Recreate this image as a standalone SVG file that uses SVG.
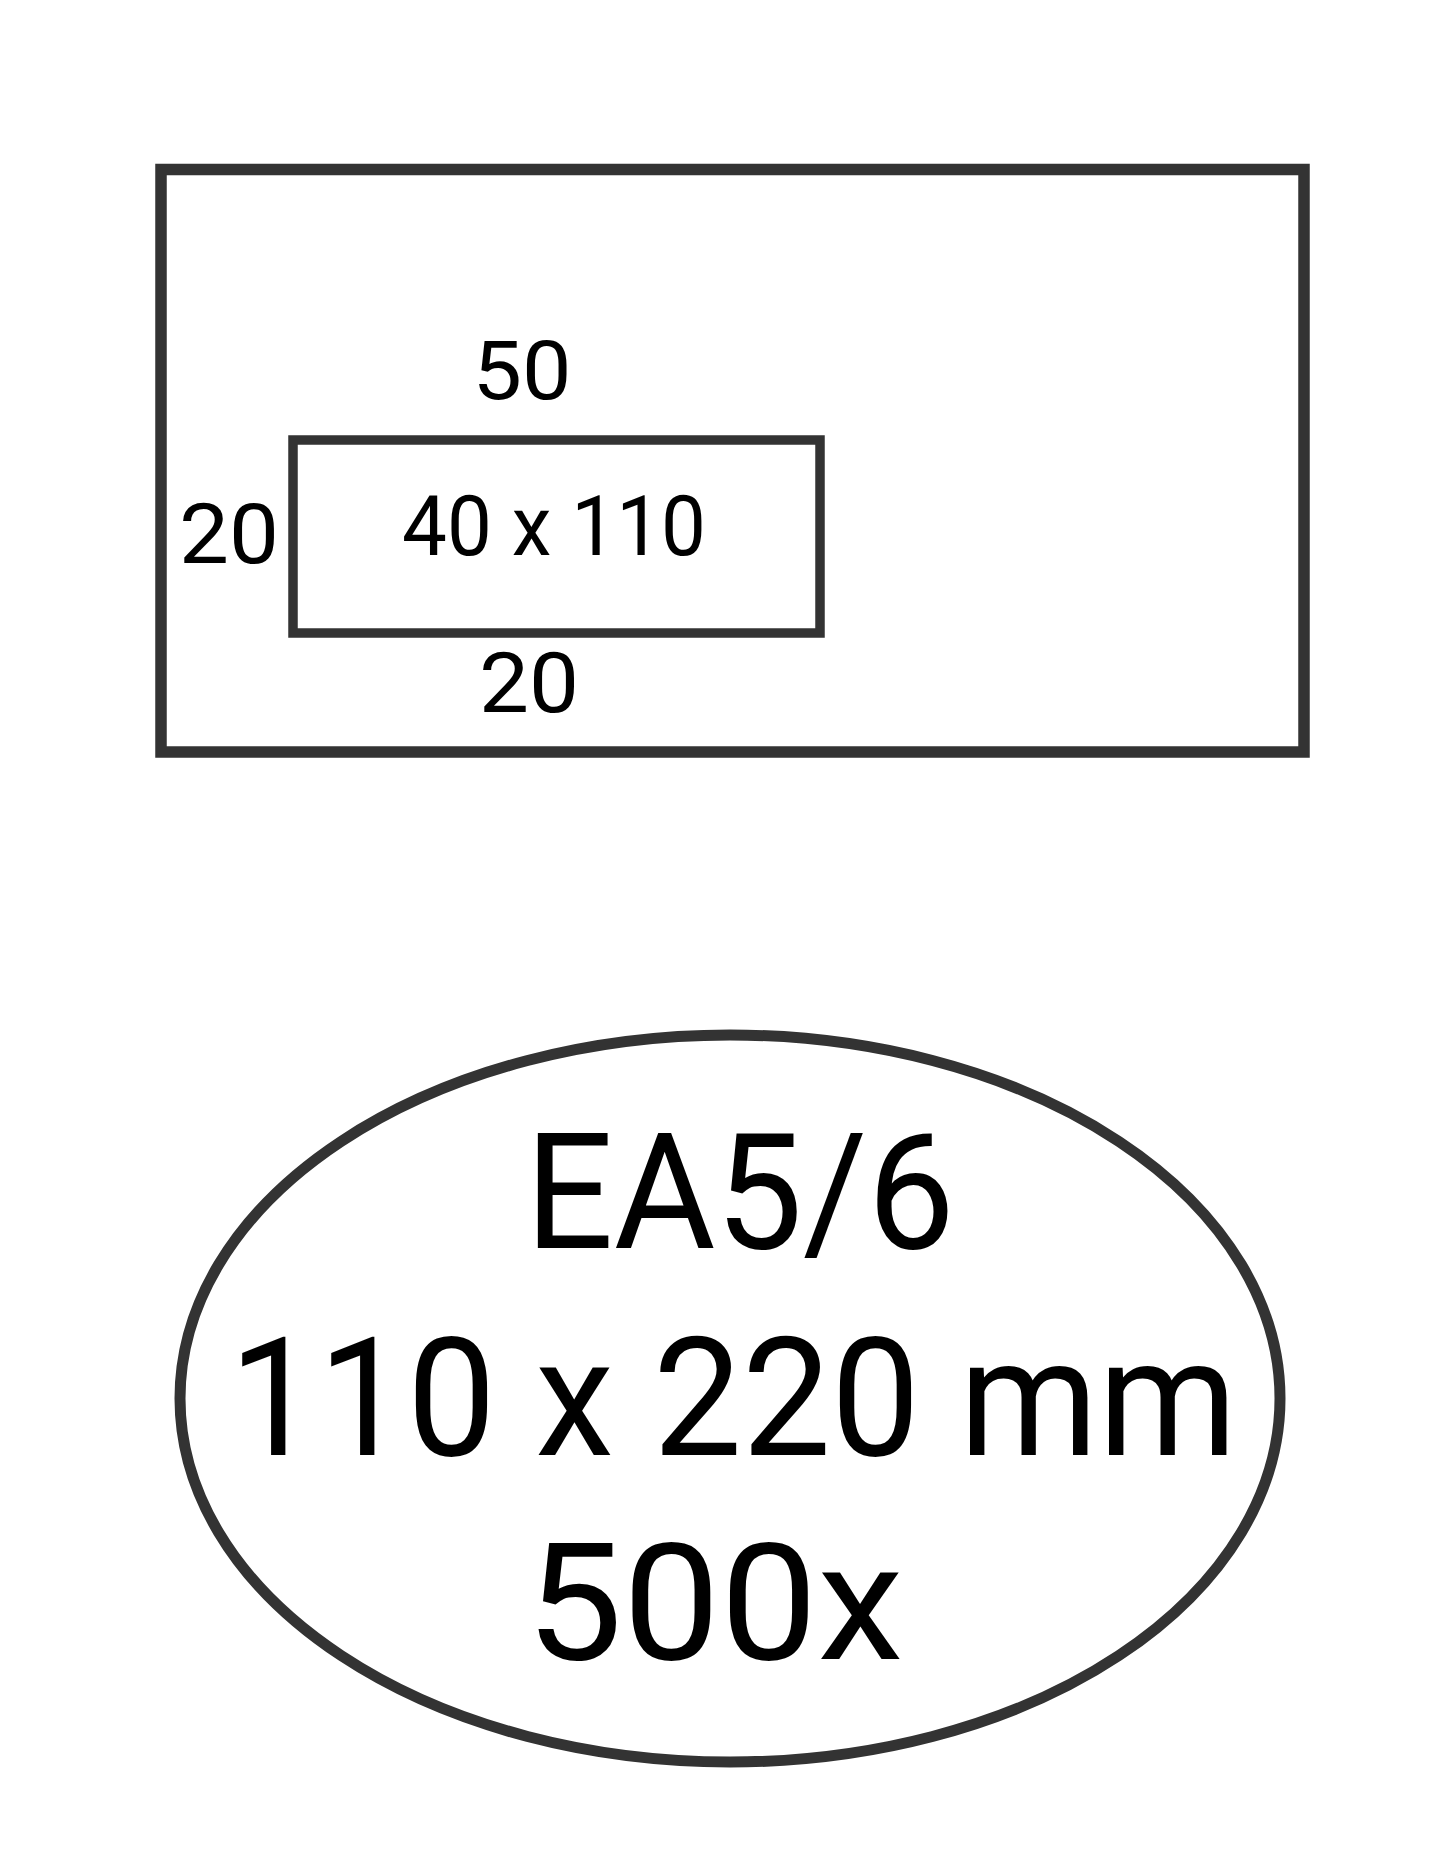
<svg xmlns="http://www.w3.org/2000/svg" width="1440" height="1866" viewBox="0 0 1440 1866">
  <style>
    .frame { fill: none; stroke: #333333; }
    .lbl { font-family: Roboto, "Liberation Sans", Arial, sans-serif; fill: #000000; text-anchor: middle; }
  </style>
  <rect x="0" y="0" width="1440" height="1866" fill="#ffffff"/>
  <g id="envelope">
    <rect class="frame" x="161" y="169.5" width="1143" height="582.5" stroke-width="11.5"/>
  </g>
  <g id="window">
    <rect class="frame" x="293" y="440" width="527" height="193" stroke-width="9.5"/>
    <text class="lbl" x="554" y="555" font-size="83" textLength="304" lengthAdjust="spacingAndGlyphs">40 x 110</text>
  </g>
  <g id="dim-top">
    <text class="lbl" x="522" y="399" font-size="82" textLength="99" lengthAdjust="spacingAndGlyphs">50</text>
  </g>
  <g id="dim-left">
    <text class="lbl" x="229" y="563" font-size="84" textLength="100" lengthAdjust="spacingAndGlyphs">20</text>
  </g>
  <g id="dim-bottom">
    <text class="lbl" x="529" y="712" font-size="83" textLength="100" lengthAdjust="spacingAndGlyphs">20</text>
  </g>
  <g id="label">
    <ellipse class="frame" cx="730" cy="1398.5" rx="550" ry="363.5" stroke-width="11"/>
    <text class="lbl" x="740" y="1248" font-size="161" textLength="430" lengthAdjust="spacingAndGlyphs">EA5/6</text>
    <text class="lbl" x="733" y="1455" font-size="165" textLength="1008" lengthAdjust="spacingAndGlyphs">110 x 220 mm</text>
    <text class="lbl" x="714.5" y="1659" font-size="163" textLength="378" lengthAdjust="spacingAndGlyphs">500x</text>
  </g>
  <g id="connectors"/>
</svg>
